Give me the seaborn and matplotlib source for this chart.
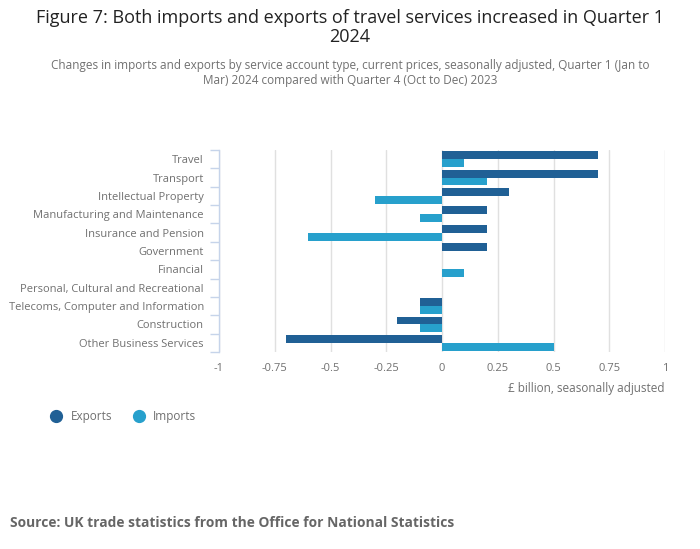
import pandas as pd
import matplotlib.pyplot as plt
from matplotlib.lines import Line2D
import seaborn as sns

# --- Données ---
categories = ["Travel", "Transport", "Intellectual Property",
              "Manufacturing and Maintenance", "Insurance and Pension",
              "Government", "Financial", "Personal, Cultural and Recreational",
              "Telecoms, Computer and Information", "Construction",
              "Other Business Services"]
exports = [0.7, 0.7, 0.3, 0.2, 0.2, 0.2, 0.0, 0.0, -0.1, -0.2, -0.7]
imports = [0.1, 0.2, -0.3, -0.1, -0.6, 0.0, 0.1, 0.0, -0.1, -0.1, 0.5]
series = ["Exports", "Imports"]
x_ticks = [-1, -0.75, -0.5, -0.25, 0, 0.25, 0.5, 0.75, 1]
x_labels = ["-1", "-0.75", "-0.5", "-0.25", "0", "0.25", "0.5", "0.75", "1"]

df = pd.DataFrame({
    "categorie": categories * 2,
    "serie": [series[0]] * len(categories) + [series[1]] * len(categories),
    "valeur": exports + imports,
})

colors = {"Exports": "#206095", "Imports": "#27a0cc"}
grey = "#707070"

sns.set_style("white")
plt.rcParams['font.family'] = ['Open Sans', 'DejaVu Sans']

fig = plt.figure(figsize=(7, 5.49), dpi=100)
ax = fig.add_axes([0.3129, 0.3588, 0.6371, 0.368])

sns.barplot(data=df, x="valeur", y="categorie", hue="serie", palette=colors,
            orient="h", width=0.86, saturation=1, linewidth=0, legend=False, ax=ax)

ax.set_xlim(-1, 1)
ax.set_xticks(x_ticks)
ax.set_xticklabels(x_labels)
ax.set_ylim(len(categories) - 0.5, -0.5)
ax.set_xlabel("")
ax.set_ylabel("")

# grille verticale
ax.grid(axis="x", color="#e0e0e0", linewidth=1)
ax.set_axisbelow(True)
for s in ["top", "right", "bottom"]:
    ax.spines[s].set_visible(False)
ax.spines["left"].set_color("#c6d4ea")
ax.spines["left"].set_linewidth(1)

# ticks aux limites des catégories
ax.set_yticks([i - 0.5 for i in range(len(categories) + 1)], minor=True)
ax.tick_params(axis="y", which="minor", left=True, length=6.5, color="#c6d4ea", width=1)
ax.tick_params(axis="y", which="major", left=False, length=0, pad=11, labelsize=8, labelcolor=grey)
ax.tick_params(axis="x", length=0, pad=8, labelsize=8, labelcolor=grey)

# --- Textes ---
fig.text(0.5, 0.983, "Figure 7: Both imports and exports of travel services increased in Quarter 1\n2024",
         ha="center", va="top", fontsize=13, color="#222222", linespacing=1.05)
fig.text(0.5, 0.893, "Changes in imports and exports by service account type, current prices, seasonally adjusted, Quarter 1 (Jan to\nMar) 2024 compared with Quarter 4 (Oct to Dec) 2023",
         ha="center", va="top", fontsize=8.5, color=grey, linespacing=1.2)
fig.text(0.95, 0.293, "£ billion, seasonally adjusted", ha="right", va="center",
         fontsize=8.5, color=grey)
fig.text(0.014, 0.048, "Source: UK trade statistics from the Office for National Statistics",
         ha="left", va="center", fontsize=9.9, color="#666666", fontweight="bold")

# --- Légende ---
handles = [Line2D([0], [0], marker="o", linestyle="", markersize=8.5,
                  markerfacecolor=colors[s], markeredgecolor=colors[s]) for s in series]
fig.legend(handles, series, loc="center left", bbox_to_anchor=(0.056, 0.241),
           ncol=2, frameon=False, fontsize=8.5, labelcolor=grey,
           handlelength=1, handletextpad=0.75, columnspacing=1.75)

plt.savefig("out.png", dpi=100)
